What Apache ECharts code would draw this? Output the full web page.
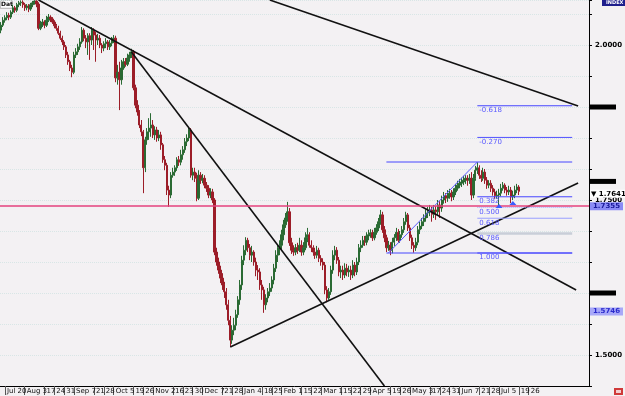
<!DOCTYPE html>
<html>
<head>
<meta charset="utf-8">
<script src="https://cdn.jsdelivr.net/npm/echarts@6/dist/echarts.min.js"></script>
<style>
  html, body { margin: 0; padding: 0; background: #f3f1f3; }
  #chart { width: 625px; height: 396px; }
</style>
</head>
<body>
<div id="chart"></div>
<script>
// daily candles: [open, close, low, high]
const candles = [
  [2.024,2.032,2.019,2.037],[2.032,2.040,2.029,2.045],[2.040,2.044,2.036,2.048],[2.044,2.048,2.040,2.053],
  [2.048,2.045,2.040,2.052],[2.045,2.053,2.042,2.056],[2.053,2.060,2.050,2.065],[2.060,2.056,2.052,2.063],
  [2.056,2.065,2.053,2.068],[2.065,2.068,2.061,2.071],[2.068,2.069,2.063,2.072],[2.069,2.065,2.060,2.072],
  [2.065,2.060,2.055,2.068],[2.060,2.063,2.056,2.066],[2.063,2.058,2.053,2.066],[2.058,2.065,2.055,2.068],
  [2.065,2.068,2.061,2.071],[2.068,2.071,2.065,2.072],[2.071,2.066,2.061,2.072],[2.066,2.027,2.024,2.069],
  [2.027,2.034,2.024,2.039],[2.034,2.037,2.029,2.042],[2.037,2.032,2.027,2.040],[2.032,2.040,2.029,2.047],
  [2.040,2.045,2.037,2.050],[2.045,2.042,2.037,2.048],[2.042,2.037,2.034,2.045],[2.037,2.031,2.027,2.040],
  [2.031,2.027,2.023,2.034],[2.027,2.019,2.016,2.031],[2.019,2.011,2.008,2.023],[2.011,2.005,2.000,2.015],
  [2.005,1.997,1.992,2.008],[1.997,1.984,1.979,2.000],[1.984,1.973,1.968,1.989],[1.973,1.963,1.958,1.976],
  [1.963,1.956,1.948,1.968],[1.956,1.984,1.953,1.989],[1.984,1.989,1.979,1.995],[1.989,1.997,1.984,2.002],
  [1.997,2.005,1.992,2.011],[2.005,2.024,2.002,2.029],[2.024,2.011,2.006,2.027],[2.011,2.005,1.995,2.016],
  [2.005,2.015,1.984,2.019],[2.015,2.008,1.976,2.019],[2.008,2.024,2.000,2.029],[2.024,2.016,1.992,2.027],
  [2.016,2.008,1.973,2.021],[2.008,2.011,2.000,2.018],[2.011,2.000,1.995,2.016],[2.000,1.995,1.987,2.003],
  [1.995,2.002,1.990,2.006],[2.002,2.005,1.995,2.011],[2.005,1.997,1.992,2.008],[1.997,2.003,1.992,2.008],
  [2.003,2.008,1.998,2.013],[2.008,2.011,2.003,2.016],[2.011,1.947,1.940,2.015],[1.947,1.956,1.936,1.968],
  [1.956,1.944,1.895,1.973],[1.944,1.963,1.936,1.976],[1.963,1.973,1.960,1.979],[1.973,1.969,1.965,1.979],
  [1.969,1.979,1.966,1.986],[1.979,1.984,1.973,1.989],[1.984,1.989,1.979,1.994],[1.989,1.931,1.927,1.992],
  [1.931,1.903,1.898,1.936],[1.903,1.892,1.886,1.911],[1.892,1.871,1.866,1.895],[1.871,1.860,1.853,1.879],
  [1.860,1.802,1.761,1.863],[1.802,1.847,1.795,1.852],[1.847,1.860,1.839,1.866],[1.860,1.866,1.847,1.882],
  [1.866,1.871,1.852,1.890],[1.871,1.855,1.850,1.879],[1.855,1.863,1.847,1.869],[1.863,1.850,1.844,1.868],
  [1.850,1.855,1.845,1.863],[1.855,1.839,1.831,1.860],[1.839,1.815,1.810,1.842],[1.815,1.806,1.798,1.821],
  [1.806,1.766,1.758,1.810],[1.766,1.758,1.739,1.773],[1.758,1.790,1.753,1.795],[1.790,1.795,1.786,1.802],
  [1.795,1.802,1.789,1.806],[1.802,1.815,1.797,1.819],[1.815,1.811,1.805,1.821],[1.811,1.823,1.806,1.831],
  [1.823,1.831,1.815,1.837],[1.831,1.844,1.826,1.850],[1.844,1.850,1.837,1.856],[1.850,1.863,1.845,1.868],
  [1.863,1.790,1.786,1.866],[1.790,1.795,1.782,1.802],[1.795,1.785,1.779,1.802],[1.785,1.753,1.748,1.794],
  [1.753,1.790,1.750,1.798],[1.790,1.782,1.776,1.795],[1.782,1.785,1.777,1.792],[1.785,1.774,1.769,1.790],
  [1.774,1.769,1.763,1.779],[1.769,1.758,1.753,1.774],[1.758,1.763,1.753,1.769],[1.763,1.750,1.745,1.768],
  [1.750,1.666,1.661,1.753],[1.666,1.650,1.644,1.673],[1.650,1.637,1.631,1.657],[1.637,1.624,1.616,1.644],
  [1.624,1.613,1.605,1.632],[1.613,1.602,1.592,1.618],[1.602,1.581,1.573,1.608],[1.581,1.556,1.548,1.589],
  [1.556,1.524,1.513,1.563],[1.524,1.540,1.518,1.548],[1.540,1.548,1.532,1.560],[1.548,1.565,1.540,1.573],
  [1.565,1.589,1.560,1.595],[1.589,1.613,1.581,1.621],[1.613,1.653,1.605,1.660],[1.653,1.669,1.645,1.677],
  [1.669,1.685,1.661,1.690],[1.685,1.673,1.666,1.689],[1.673,1.661,1.653,1.679],[1.661,1.666,1.650,1.676],
  [1.666,1.650,1.644,1.669],[1.650,1.637,1.627,1.657],[1.637,1.634,1.621,1.645],[1.634,1.613,1.605,1.640],
  [1.613,1.605,1.589,1.621],[1.605,1.581,1.568,1.610],[1.581,1.592,1.573,1.598],[1.592,1.602,1.585,1.608],
  [1.602,1.608,1.595,1.616],[1.608,1.621,1.602,1.627],[1.621,1.640,1.614,1.647],[1.640,1.661,1.634,1.669],
  [1.661,1.673,1.650,1.679],[1.673,1.677,1.661,1.685],[1.677,1.694,1.669,1.702],[1.694,1.710,1.685,1.718],
  [1.710,1.721,1.705,1.729],[1.721,1.731,1.715,1.747],[1.731,1.681,1.676,1.737],[1.681,1.669,1.663,1.689],
  [1.669,1.666,1.660,1.677],[1.666,1.673,1.661,1.679],[1.673,1.669,1.663,1.681],[1.669,1.677,1.666,1.689],
  [1.677,1.666,1.660,1.685],[1.666,1.673,1.661,1.682],[1.673,1.689,1.669,1.698],[1.689,1.694,1.682,1.705],
  [1.694,1.677,1.673,1.698],[1.677,1.673,1.666,1.685],[1.673,1.666,1.660,1.677],[1.666,1.661,1.655,1.673],
  [1.661,1.669,1.656,1.676],[1.669,1.656,1.650,1.673],[1.656,1.650,1.644,1.661],[1.650,1.645,1.637,1.656],
  [1.645,1.605,1.598,1.650],[1.605,1.592,1.585,1.611],[1.592,1.602,1.589,1.608],[1.602,1.637,1.597,1.644],
  [1.637,1.661,1.631,1.669],[1.661,1.669,1.653,1.676],[1.669,1.653,1.647,1.674],[1.653,1.634,1.627,1.658],
  [1.634,1.637,1.624,1.644],[1.637,1.629,1.621,1.644],[1.629,1.640,1.624,1.648],[1.640,1.634,1.627,1.647],
  [1.634,1.637,1.626,1.644],[1.637,1.629,1.621,1.644],[1.629,1.645,1.624,1.653],[1.645,1.634,1.627,1.650],
  [1.634,1.650,1.629,1.657],[1.650,1.673,1.645,1.679],[1.673,1.677,1.666,1.685],[1.677,1.685,1.673,1.692],
  [1.685,1.682,1.676,1.692],[1.682,1.692,1.677,1.698],[1.692,1.694,1.685,1.702],[1.694,1.697,1.689,1.703],
  [1.697,1.689,1.684,1.702],[1.689,1.698,1.685,1.705],[1.698,1.705,1.694,1.711],[1.705,1.715,1.700,1.721],
  [1.715,1.726,1.710,1.734],[1.726,1.702,1.697,1.731],[1.702,1.689,1.682,1.708],[1.689,1.673,1.666,1.694],
  [1.673,1.677,1.668,1.684],[1.677,1.669,1.661,1.682],[1.669,1.682,1.664,1.689],[1.682,1.689,1.676,1.695],
  [1.689,1.698,1.684,1.705],[1.698,1.685,1.681,1.703],[1.685,1.694,1.681,1.700],[1.694,1.702,1.689,1.708],
  [1.702,1.715,1.697,1.721],[1.715,1.726,1.710,1.731],[1.726,1.705,1.700,1.729],[1.705,1.689,1.684,1.710],
  [1.689,1.677,1.671,1.694],[1.677,1.673,1.665,1.682],[1.673,1.682,1.668,1.689],[1.682,1.702,1.677,1.708],
  [1.702,1.708,1.695,1.715],[1.708,1.715,1.703,1.721],[1.715,1.721,1.708,1.727],[1.721,1.729,1.715,1.735],
  [1.729,1.731,1.721,1.739],[1.731,1.734,1.724,1.742],[1.734,1.727,1.715,1.739],[1.727,1.734,1.721,1.742],
  [1.734,1.731,1.718,1.740],[1.731,1.742,1.726,1.750],[1.742,1.737,1.721,1.748],[1.737,1.750,1.731,1.757],
  [1.750,1.757,1.744,1.763],[1.757,1.753,1.745,1.761],[1.753,1.758,1.747,1.766],[1.758,1.761,1.752,1.768],
  [1.761,1.755,1.748,1.766],[1.755,1.763,1.750,1.769],[1.763,1.769,1.758,1.776],[1.769,1.774,1.765,1.781],
  [1.774,1.777,1.769,1.784],[1.777,1.779,1.771,1.786],[1.779,1.782,1.774,1.789],[1.782,1.785,1.776,1.790],
  [1.785,1.782,1.773,1.790],[1.782,1.785,1.776,1.792],[1.785,1.758,1.750,1.795],[1.758,1.785,1.753,1.792],
  [1.785,1.798,1.781,1.805],[1.798,1.802,1.792,1.811],[1.802,1.790,1.784,1.806],[1.790,1.785,1.779,1.798],
  [1.785,1.795,1.781,1.802],[1.795,1.782,1.776,1.800],[1.782,1.774,1.768,1.787],[1.774,1.777,1.769,1.782],
  [1.777,1.769,1.763,1.782],[1.769,1.763,1.757,1.774],[1.763,1.757,1.752,1.768],[1.757,1.758,1.752,1.765],
  [1.758,1.761,1.740,1.768],[1.761,1.769,1.756,1.776],[1.769,1.774,1.765,1.779],[1.774,1.766,1.761,1.777],
  [1.766,1.763,1.757,1.771],[1.763,1.766,1.758,1.773],[1.766,1.755,1.745,1.771],[1.755,1.758,1.750,1.765],
  [1.758,1.766,1.753,1.773],[1.766,1.771,1.761,1.776],[1.771,1.764,1.758,1.774]
];

const dayCount = 298;   // slots on the time axis, incl. empty space on the right

// [slot, label]
const tickLabels = [
  [2,'Jul 20'],[12,'Aug 3'],[22,'17'],[27,'24'],[32,'31'],[37,'Sep 7'],[47,'21'],[52,'28'],
  [57,'Oct 5'],[67,'19'],[72,'26'],[77,'Nov 2'],[87,'16'],[92,'23'],[97,'30'],[102,'Dec 7'],
  [112,'21'],[117,'28'],[122,'Jan 4'],[132,'18'],[137,'25'],[142,'Feb 1'],[152,'15'],[157,'22'],
  [162,'Mar 1'],[172,'15'],[177,'22'],[182,'29'],[187,'Apr 5'],[197,'19'],[202,'26'],[207,'May 3'],
  [217,'17'],[222,'24'],[227,'31'],[232,'Jun 7'],[242,'21'],[247,'28'],[252,'Jul 5'],[262,'19'],[267,'26']
];
const priceLabels = [2.0, 1.75, 1.5];

// drawn trend lines, [[slot, price], [slot, price]]
const trendLines = [
  [[18.5, 2.0726], [291, 1.6048]],
  [[66, 1.9887], [193.5, 1.4500]],
  [[136, 2.0726], [292, 1.9016]],
  [[116, 1.5129], [292, 1.7774]]
];

// fibonacci tool
const fibLow = 1.6645, fibHigh = 1.8113;
const fibSlots = [194.5, 195.5, 241, 288.5]; // line start, swing start, swing end / label start, end
const fibLevels = [-0.618, -0.27, 0.382, 0.5, 0.618, 0.786, 1.0];
const fibLabels = ['-0.618', '-0.270', '0.382', '0.500', '0.618', '0.786', '1.000'];

const hLevel = 1.7355;          // pink horizontal line
const lastPrice = 1.7641;
const blackBoxes = [1.9016, 1.7774, 1.6048];
const blueBox = 1.5746;
const arrows = [[252, 1.7403], [258.5, 1.7452]];

const categories = Array.from({ length: dayCount }, (_, i) => String(i));
const tickMap = new Map(tickLabels);

const fibPrice = r => fibHigh - r * (fibHigh - fibLow);
const fibColor = ['#4646ff', '#5252ff', '#4646ff', '#a9adff', '#9a9fff', '#c9ced8', '#4646ff'];
const hidden = 'rgba(0,0,0,0)';

// one plain line series per drawn object
function lineSeries(points, style) {
  return {
    type: 'line',
    data: points,
    symbol: 'none',
    silent: true,
    animation: false,
    clip: false,
    lineStyle: Object.assign({ type: 'solid' }, style),
    itemStyle: { color: style.color },
    z: 3
  };
}

const series = [{
  type: 'candlestick',
  data: candles,
  barWidth: 1.8,
  itemStyle: {
    color: '#2a6a33', color0: '#9c1d28',
    borderColor: '#2a6a33', borderColor0: '#9c1d28', borderWidth: 1
  },
  z: 2
}];

trendLines.forEach(l => series.push(lineSeries(l, { color: '#111', width: 1.6 })));

[0, 1].forEach(r => {
  series.push(lineSeries([[fibSlots[0], fibPrice(r)], [fibSlots[3], fibPrice(r)]], { color: '#4646ff', width: 1 }));
});
series.push(lineSeries([[fibSlots[1], fibLow], [fibSlots[2], fibHigh]], { color: '#5a5aff', width: 1 }));

fibLevels.forEach((r, i) => {
  const s = lineSeries(
    [[fibSlots[2], fibPrice(r)], [fibSlots[3], fibPrice(r)]],
    { color: fibColor[i], width: r === 0.786 ? 2.5 : 1, type: r === 0.5 ? 'dotted' : 'solid' }
  );
  s.symbol = 'circle';
  s.symbolSize = 0;
  s.showSymbol = true;
  s.showAllSymbol = true;
  s.label = {
    show: true, position: 'bottom', distance: 1, align: 'left',
    formatter: p => (p.dataIndex === 0 ? fibLabels[i] : ''),
    color: '#5a5aff', fontSize: 7, fontFamily: 'DejaVu Sans', offset: [2, 0]
  };
  series.push(s);
});

// pink level and right-hand price boxes
const boxLines = [
  {
    yAxis: hLevel, lineStyle: { color: '#e4427e', width: 1.6, type: 'solid' },
    label: {
      show: true, position: 'end', distance: 1, formatter: hLevel.toFixed(4),
      backgroundColor: '#8b8bf5', color: '#1a1a9a', fontSize: 7, fontWeight: 'bold',
      fontFamily: 'DejaVu Sans', padding: [1, 3, 0, 3]
    }
  }
];
blackBoxes.forEach(p => boxLines.push({
  yAxis: p, lineStyle: { color: hidden, width: 0 },
  label: { show: true, position: 'end', distance: 0, formatter: ' ',
    backgroundColor: '#000', width: 27, height: 5, padding: 0, fontSize: 5 }
}));
boxLines.push({
  yAxis: blueBox, lineStyle: { color: hidden, width: 0 },
  label: { show: true, position: 'end', distance: 1, formatter: blueBox.toFixed(4),
    backgroundColor: '#a8a8f8', color: '#2a2acc', fontSize: 7, fontWeight: 'bold',
    fontFamily: 'DejaVu Sans', padding: [1, 3, 0, 3] }
});
boxLines.push({
  yAxis: lastPrice, lineStyle: { color: hidden, width: 0 },
  label: { show: true, position: 'end', distance: 1, formatter: '\u25BC ' + lastPrice.toFixed(4),
    backgroundColor: '#ffffff', color: '#000', fontSize: 7, fontWeight: 'bold',
    fontFamily: 'DejaVu Sans', padding: [1, 1, 0, 1] }
});

series.push({
  type: 'line',
  data: [],
  silent: true,
  animation: false,
  z: 4,
  markLine: {
    silent: true, symbol: ['none', 'none'], animation: false,
    lineStyle: { type: 'solid' },
    data: boxLines
  },
  markPoint: {
    silent: true, symbol: 'triangle', symbolSize: [7, 4],
    itemStyle: { color: '#3a5cff' }, label: { show: false },
    data: arrows.map(a => ({ coord: a }))
  }
});

const chart = echarts.init(document.getElementById('chart'));
chart.setOption({
  backgroundColor: '#f3f1f3',
  animation: false,
  grid: { left: 0, right: 27, top: 0, bottom: 10 },
  xAxis: {
    type: 'category',
    data: categories,
    boundaryGap: true,
    axisLine: { show: true, lineStyle: { color: '#000', width: 1 } },
    axisTick: {
      show: true, alignWithLabel: true, length: 9,
      interval: i => tickMap.has(i),
      lineStyle: { color: '#555' }
    },
    axisLabel: {
      interval: i => tickMap.has(i),
      formatter: v => tickMap.get(+v) || '',
      align: 'left', margin: 2, padding: [0, 0, 0, 2],
      fontSize: 7, color: '#111', fontFamily: 'DejaVu Sans'
    },
    splitLine: { show: false }
  },
  yAxis: {
    type: 'value',
    position: 'right',
    min: 1.45,
    max: 2.0726,
    interval: 0.05,
    axisLine: { show: true, lineStyle: { color: '#000' } },
    axisTick: { show: true, length: 3, lineStyle: { color: '#000' } },
    axisLabel: {
      formatter: v => priceLabels.some(p => Math.abs(p - v) < 1e-6) ? v.toFixed(4) : '',
      fontSize: 7, fontWeight: 'bold', color: '#000', margin: 6, fontFamily: 'DejaVu Sans'
    },
    splitLine: { show: true, lineStyle: { color: '#d8e6e6', type: 'dotted' } }
  },
  series: series,
  graphic: [
    { type: 'rect', left: 602, top: -2, shape: { width: 23, height: 8 }, style: { fill: '#1e1e8c' } },
    { type: 'text', left: 606, top: 0, style: { text: 'INDEX', fill: '#fff', font: 'bold 5px DejaVu Sans' } },
    { type: 'rect', left: 0, top: 0, shape: { width: 12, height: 8 }, style: { fill: '#fff', stroke: '#666', lineWidth: 0.5 } },
    { type: 'text', left: 1, top: 1, style: { text: 'Dat', fill: '#000', font: 'bold 6px DejaVu Sans' } },
    { type: 'rect', left: 614, top: 388, shape: { width: 9, height: 7 }, style: { fill: '#d03a3a' } },
    { type: 'rect', left: 616, top: 390, shape: { width: 5, height: 3 }, style: { fill: '#f3d0d0' } }
  ]
});
</script>
</body>
</html>
